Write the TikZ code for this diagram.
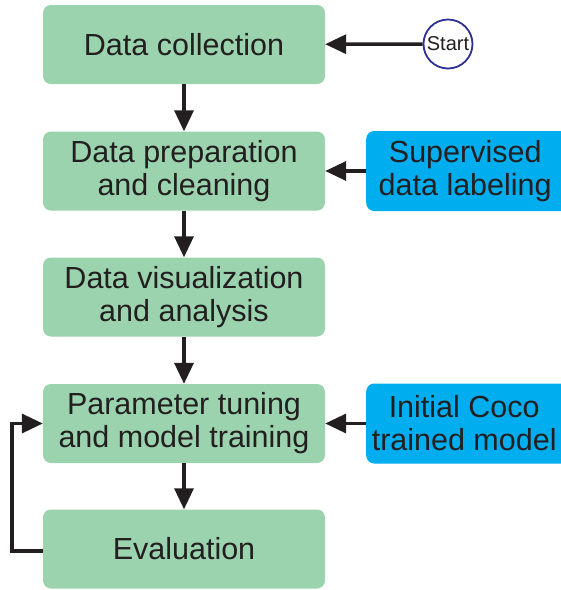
\documentclass[tikz,border=0pt]{standalone}
\usepackage{fontspec}
\setmainfont{Liberation Sans}
\usetikzlibrary{arrows.meta}
\definecolor{boxgreen}{HTML}{9AD3AE}
\definecolor{boxblue}{HTML}{00AEEF}
\definecolor{ink}{HTML}{231F20}
\definecolor{startblue}{HTML}{2E3192}
\tikzset{
  greenbox/.style={fill=boxgreen, rounded corners=8pt, minimum width=282pt, minimum height=79pt, inner sep=0pt, align=center, text=ink, font=\fontsize{30.5}{33}\selectfont},
  bluebox/.style={fill=boxblue, rounded corners=8pt, minimum width=210pt, minimum height=80pt, inner sep=0pt, align=center, text=ink, font=\fontsize{30.5}{33}\selectfont},
  conn/.style={draw=ink, line width=3.4pt, -{Triangle[length=21pt,width=19pt]}},
  startnode/.style={circle, draw=startblue, line width=1.8pt, fill=white, minimum size=49pt, inner sep=0pt, text=ink, font=\fontsize{20}{22}\selectfont}
}
\begin{document}
\begin{tikzpicture}[x=1pt,y=-1pt]
\useasboundingbox (0,0) rectangle (561,590);
\node[greenbox] (dc) at (184,44.5) {Data collection};
\node[greenbox] (dp) at (184,171) {Data preparation\\and cleaning};
\node[greenbox] (dv) at (184,297) {Data visualization\\and analysis};
\node[greenbox] (pt) at (184,423.5) {Parameter tuning\\and model training};
\node[greenbox] (ev) at (184,549) {Evaluation};
\node[bluebox, anchor=west] (sl) at (366,171) {\hspace*{-12pt}Supervised\\\hspace*{-12pt}data labeling};
\node[bluebox, anchor=west] (ic) at (366,423.5) {\hspace*{-14pt}Initial Coco\\\hspace*{-14pt}trained model};
\node[startnode] (st) at (448,44) {Start};
\coordinate (lb) at (12,551);
\coordinate (lt) at (12,423.5);
\draw[conn] (st) -- (dc);
\draw[conn] (sl) -- (dp);
\draw[conn] (ic) -- (pt);
\draw[conn] (dc) -- (dp);
\draw[conn] (dp) -- (dv);
\draw[conn] (dv) -- (pt);
\draw[conn] (pt) -- (ev);
\draw[conn] (ev.west |- lb) -- (lb) -- (lt) -- (pt.west);
\end{tikzpicture}
\end{document}
